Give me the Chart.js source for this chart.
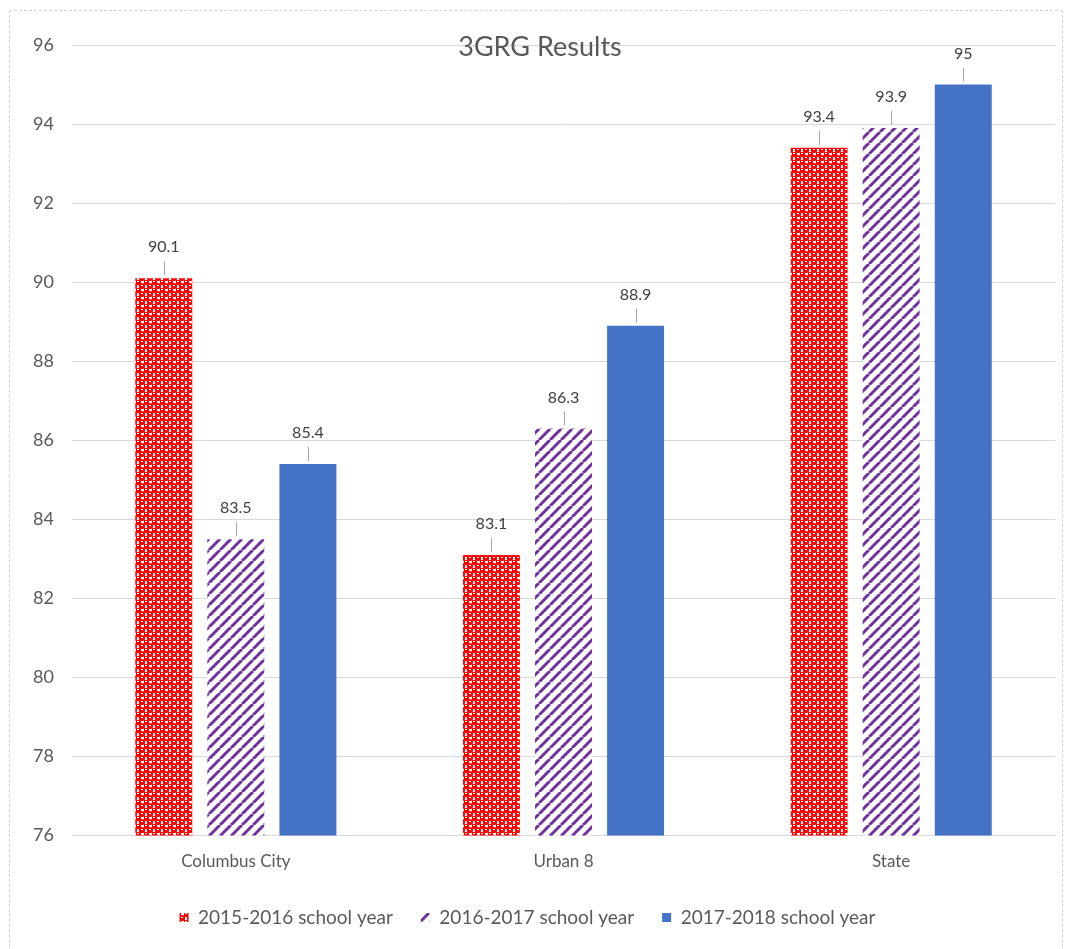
<!DOCTYPE html>
<html lang="en">
<head>
<meta charset="UTF-8" />
<title>3GRG Results</title>
<style>
  html, body { margin: 0; padding: 0; background: #fff; }
  .frame {
    position: absolute; left: 9px; top: 10px;
    width: 1052px; height: 945px;
    border: 1px dashed #d4d4d4;
  }
  .wrap { position: absolute; left: 0; top: 0; width: 1065px; height: 949px; }
</style>
</head>
<body>
  <div class="frame"></div>
  <div class="wrap"><canvas id="chart"></canvas></div>

  <script src="https://cdn.jsdelivr.net/npm/chart.js"></script>
  <script>
    const categories = ['Columbus City', 'Urban 8', 'State'];
    const seriesNames = ['2015-2016 school year', '2016-2017 school year', '2017-2018 school year'];
    const values2015 = [90.1, 83.1, 93.4];
    const values2016 = [83.5, 86.3, 93.9];
    const values2017 = [85.4, 88.9, 95];
    const yTicks = [76, 78, 80, 82, 84, 86, 88, 90, 92, 94, 96];

    const FONT = "Lato, 'Liberation Sans', sans-serif";

    // red dotted pattern
    function dotPattern() {
      const c = document.createElement('canvas');
      c.width = 8; c.height = 8;
      const g = c.getContext('2d');
      g.fillStyle = '#fff'; g.fillRect(0, 0, 8, 8);
      g.fillStyle = '#ff0000';
      [[2, 2], [6, 6], [-2, 6], [6, -2], [10, 6], [6, 10], [-2, -2], [10, 10], [-2, 10], [10, -2]].forEach(([x, y]) => {
        g.beginPath(); g.arc(x, y, 3.1, 0, Math.PI * 2); g.fill();
      });
      g.fillStyle = '#fff';
      g.fillRect(1, 1, 2, 1);
      g.fillRect(5, 5, 2, 1);
      return g.createPattern(c, 'repeat');
    }

    // purple diagonal stripes
    function stripePattern() {
      const c = document.createElement('canvas');
      c.width = 11; c.height = 11;
      const g = c.getContext('2d');
      g.fillStyle = '#fff'; g.fillRect(0, 0, 11, 11);
      g.strokeStyle = '#7030a0'; g.lineWidth = 3;
      [-11, 0, 11].forEach(o => {
        g.beginPath(); g.moveTo(o, 11); g.lineTo(o + 11, 0); g.stroke();
      });
      return g.createPattern(c, 'repeat');
    }

    const titlePlugin = {
      id: 'plotTitle',
      afterDraw(chart) {
        const ctx = chart.ctx;
        ctx.save();
        ctx.font = "27px " + FONT;
        ctx.fillStyle = '#595959';
        ctx.textAlign = 'center';
        ctx.textBaseline = 'middle';
        ctx.fillText('3GRG Results', 540, 47);
        ctx.restore();
      }
    };

    const labelPlugin = {
      id: 'barLabels',
      afterDatasetsDraw(chart) {
        const ctx = chart.ctx;
        ctx.save();
        chart.data.datasets.forEach((ds, i) => {
          chart.getDatasetMeta(i).data.forEach((bar, j) => {
            const top = bar.y;
            ctx.strokeStyle = '#a6a6a6';
            ctx.lineWidth = 1;
            ctx.beginPath();
            ctx.moveTo(Math.round(bar.x) + 0.5, top - 3);
            ctx.lineTo(Math.round(bar.x) + 0.5, top - 17);
            ctx.stroke();
            ctx.font = "16px " + FONT;
            ctx.fillStyle = '#404040';
            ctx.textAlign = 'center';
            ctx.textBaseline = 'middle';
            ctx.fillText(String(ds.data[j]), bar.x, top - 31);
          });
        });
        ctx.restore();
      }
    };

    new Chart(document.getElementById('chart'), {
      type: 'bar',
      data: {
        labels: categories,
        datasets: [
          { label: seriesNames[0], data: values2015, backgroundColor: dotPattern() },
          { label: seriesNames[1], data: values2016, backgroundColor: stripePattern() },
          { label: seriesNames[2], data: values2017, backgroundColor: '#4472c4' }
        ]
      },
      options: {
        responsive: true,
        maintainAspectRatio: false,
        animation: false,
        categoryPercentage: 0.66,
        barPercentage: 0.79,
        layout: { padding: { top: 45, right: 10, bottom: 12, left: 0 } },
        scales: {
          x: {
            grid: { display: false },
            border: { color: '#d9d9d9' },
            ticks: { color: '#595959', font: { family: FONT, size: 17 }, padding: 8 }
          },
          y: {
            min: 76, max: 96,
            afterFit(scale) { scale.width = 72; },
            afterBuildTicks(scale) { scale.ticks = yTicks.map(v => ({ value: v })); },
            grid: { color: '#d9d9d9', drawTicks: false },
            border: { display: false },
            ticks: { color: '#595959', font: { family: FONT, size: 18 }, padding: 18 }
          }
        },
        plugins: {
          legend: {
            position: 'bottom',
            labels: {
              boxWidth: 9, boxHeight: 9, padding: 28,
              color: '#595959', font: { family: FONT, size: 19 }
            }
          },
          tooltip: { enabled: false }
        }
      },
      plugins: [titlePlugin, labelPlugin]
    });
  </script>
</body>
</html>
